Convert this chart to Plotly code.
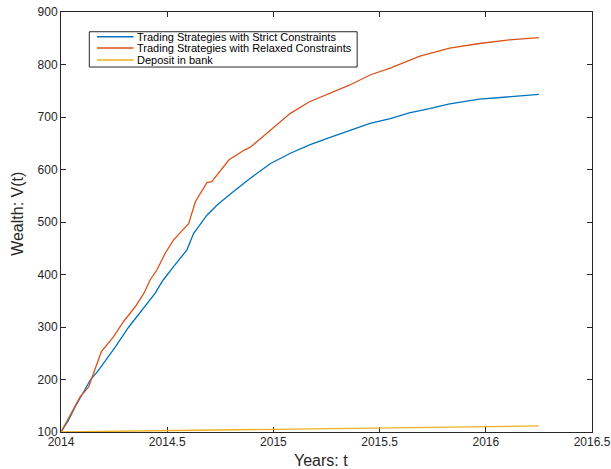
import plotly.graph_objects as go

# Time axis (years) and wealth series
years_strict = [2014.000, 2014.036, 2014.067, 2014.099, 2014.138, 2014.177, 2014.216,
                2014.256, 2014.319, 2014.380, 2014.416, 2014.443, 2014.463, 2014.482,
                2014.530, 2014.593, 2014.624, 2014.687, 2014.734, 2014.790, 2014.890,
                2014.985, 2015.080, 2015.170, 2015.267, 2015.360, 2015.455, 2015.550,
                2015.640, 2015.735, 2015.830, 2015.970, 2016.110, 2016.250]
wealth_strict = [100, 123, 148, 170, 199, 218, 240,
                 262, 300, 332, 351, 364, 378, 390,
                 415, 447, 478, 513, 532, 551, 583,
                 611, 631, 647, 661, 675, 688, 697,
                 708, 716, 725, 734, 739, 743]

years_relaxed = [2014.000, 2014.050, 2014.090, 2014.130, 2014.160, 2014.190, 2014.247,
                 2014.294, 2014.350, 2014.390, 2014.420, 2014.452, 2014.490, 2014.530,
                 2014.601, 2014.633, 2014.687, 2014.710, 2014.790, 2014.863, 2014.890,
                 2015.005, 2015.080, 2015.170, 2015.267, 2015.360, 2015.455, 2015.550,
                 2015.640, 2015.690, 2015.830, 2015.970, 2016.110, 2016.250]
wealth_relaxed = [100, 136, 167, 186, 218, 253, 281,
                  310, 339, 364, 390, 409, 440, 466,
                  497, 539, 575, 577, 618, 637, 642,
                  681, 707, 729, 745, 761, 780, 793,
                  808, 816, 831, 840, 847, 851]

years_bank = [2014.0, 2014.5, 2015.0, 2015.5, 2016.0, 2016.25]
wealth_bank = [100, 102.5, 105, 107.6, 110.3, 111.6]

series_names = ["Trading Strategies with Strict Constraints",
                "Trading Strategies with Relaxed Constraints",
                "Deposit in bank"]
series_colors = ["#0072BD", "#D95319", "#EDB120"]

x_ticks = [2014, 2014.5, 2015, 2015.5, 2016, 2016.5]
x_ticktext = ["2014", "2014.5", "2015", "2015.5", "2016", "2016.5"]
y_ticks = [100, 200, 300, 400, 500, 600, 700, 800, 900]

FONT = "Liberation Sans, Arial, Helvetica, sans-serif"
AXIS_COLOR = "#262626"

fig = go.Figure()
for xs, ys, name, color in zip([years_strict, years_relaxed, years_bank],
                               [wealth_strict, wealth_relaxed, wealth_bank],
                               series_names, series_colors):
    fig.add_trace(go.Scatter(x=xs, y=ys, mode="lines", name=name,
                             line=dict(color=color, width=1.3),
                             showlegend=False))

axis_common = dict(
    showline=True, linecolor=AXIS_COLOR, linewidth=1,
    mirror="ticks", ticks="inside", ticklen=5, tickwidth=1, tickcolor=AXIS_COLOR,
    showgrid=False, zeroline=False, layer="below traces", automargin=False,
    tickfont=dict(family=FONT, size=12, color=AXIS_COLOR),
)

fig.update_xaxes(range=[2014, 2016.5], tickvals=x_ticks, ticktext=x_ticktext,
                 ticklabelstandoff=-1, **axis_common)
fig.update_yaxes(range=[100, 900], tickvals=y_ticks, **axis_common)

# Boxed legend drawn in paper coordinates
shapes = [dict(type="rect", xref="paper", yref="paper",
               x0=0.0533, x1=0.5577, y0=0.869, y1=0.953,
               line=dict(color=AXIS_COLOR, width=1), fillcolor="white", layer="above")]
annotations = []
row_y = [0.941, 0.914, 0.886]
for name, color, yy in zip(series_names, series_colors, row_y):
    shapes.append(dict(type="line", xref="paper", yref="paper",
                       x0=0.0678, x1=0.1366, y0=yy, y1=yy,
                       line=dict(color=color, width=1.5), layer="above"))
    annotations.append(dict(xref="paper", yref="paper", x=0.1405, y=yy,
                            xanchor="left", yanchor="middle", showarrow=False,
                            text=name, borderpad=0,
                            font=dict(family=FONT, size=11, color="#000000")))

# Axis titles
annotations.append(dict(xref="paper", yref="paper", x=0.490, y=-0.069,
                        xanchor="center", yanchor="middle", showarrow=False,
                        text="Years: t", borderpad=0,
                        font=dict(family=FONT, size=16, color=AXIS_COLOR)))
annotations.append(dict(xref="paper", yref="paper", x=-0.0832, y=0.519,
                        xanchor="center", yanchor="middle", showarrow=False,
                        text="Wealth: V(t)", textangle=-90, borderpad=0,
                        font=dict(family=FONT, size=16, color=AXIS_COLOR)))

fig.update_layout(
    width=611, height=469,
    margin=dict(l=61, r=19, t=12, b=37),
    paper_bgcolor="white", plot_bgcolor="white",
    shapes=shapes, annotations=annotations,
    font=dict(family=FONT, color=AXIS_COLOR),
)

fig.write_html("out.html")
